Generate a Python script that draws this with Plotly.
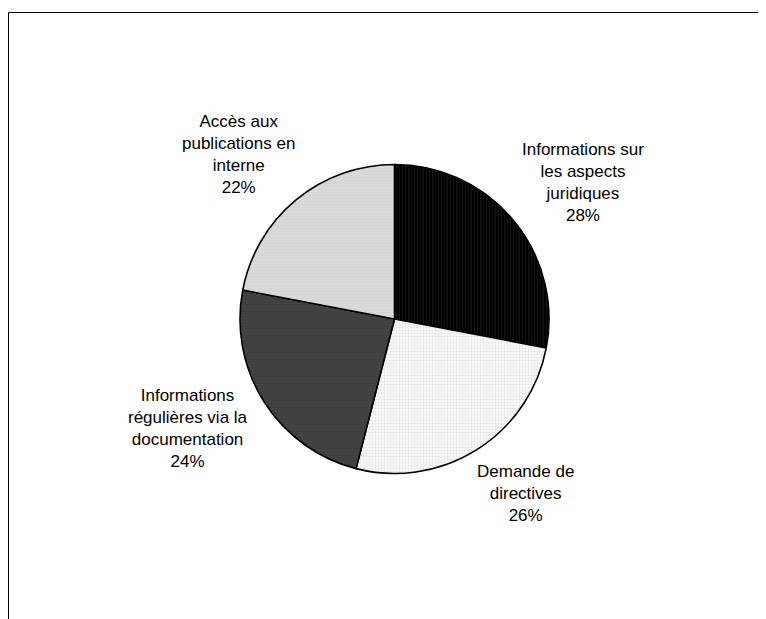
import math
import plotly.graph_objects as go

# ---- data ----
categories = [
    "Informations sur<br>les aspects<br>juridiques",
    "Demande de<br>directives",
    "Informations<br>régulières via la<br>documentation",
    "Accès aux<br>publications en<br>interne",
]
values = [28, 26, 24, 22]

# ---- styles ----
W, H = 766, 619
slice_colors = ["#000000", "#f7f7f7", "#404040", "#d9d9d9"]
pattern_shapes = ["|", ".", "-", "-"]
pattern_fg = ["#2a2a2a", "#d2d2d2", "#4a4a4a", "#d3d3d3"]
font_family = "Liberation Sans, Arial, sans-serif"
font_size = 17

# pie placement (pixels inside the figure)
cx, cy, r = 386.5, 311.0, 154.5
label_rx, label_ry = 244.0, 210.0
label_dy = -3.0

fig = go.Figure()
fig.add_trace(go.Pie(
    labels=categories,
    values=values,
    sort=False,
    direction="clockwise",
    rotation=0,
    textinfo="none",
    hoverinfo="label+percent",
    showlegend=False,
    marker=dict(
        colors=slice_colors,
        line=dict(color="#000000", width=1.6),
        pattern=dict(shape=pattern_shapes, fgcolor=pattern_fg,
                     fillmode="overlay", size=3, solidity=0.3),
    ),
    domain=dict(x=[(cx - r) / W, (cx + r) / W],
                y=[1 - (cy + r) / H, 1 - (cy - r) / H]),
))

# labels placed around the slice mid-angles
total = sum(values)
cum = 0.0
for lab, v in zip(categories, values):
    mid = (cum + v / 2) / total * 2 * math.pi
    cum += v
    px = cx + label_rx * math.sin(mid)
    py = cy + label_dy - label_ry * math.cos(mid)
    pct = round(v / total * 100)
    fig.add_annotation(
        x=px / W, y=1 - py / H, xref="paper", yref="paper",
        text=f"{lab}<br>{pct}%", showarrow=False,
        xanchor="center", yanchor="middle", align="center",
        font=dict(family=font_family, size=font_size, color="#000000"),
    )

# chart frame (top and left edges visible)
fig.add_shape(type="rect", xref="paper", yref="paper",
              x0=0.5 / W, x1=1.05, y0=-0.05, y1=1 - 4.5 / H,
              line=dict(color="#000000", width=1), fillcolor="rgba(0,0,0,0)")

fig.update_layout(
    width=W, height=H,
    margin=dict(l=0, r=0, t=0, b=0),
    paper_bgcolor="#ffffff",
    plot_bgcolor="#ffffff",
    font=dict(family=font_family, size=font_size, color="#000000"),
)

fig.write_html("out.html")
